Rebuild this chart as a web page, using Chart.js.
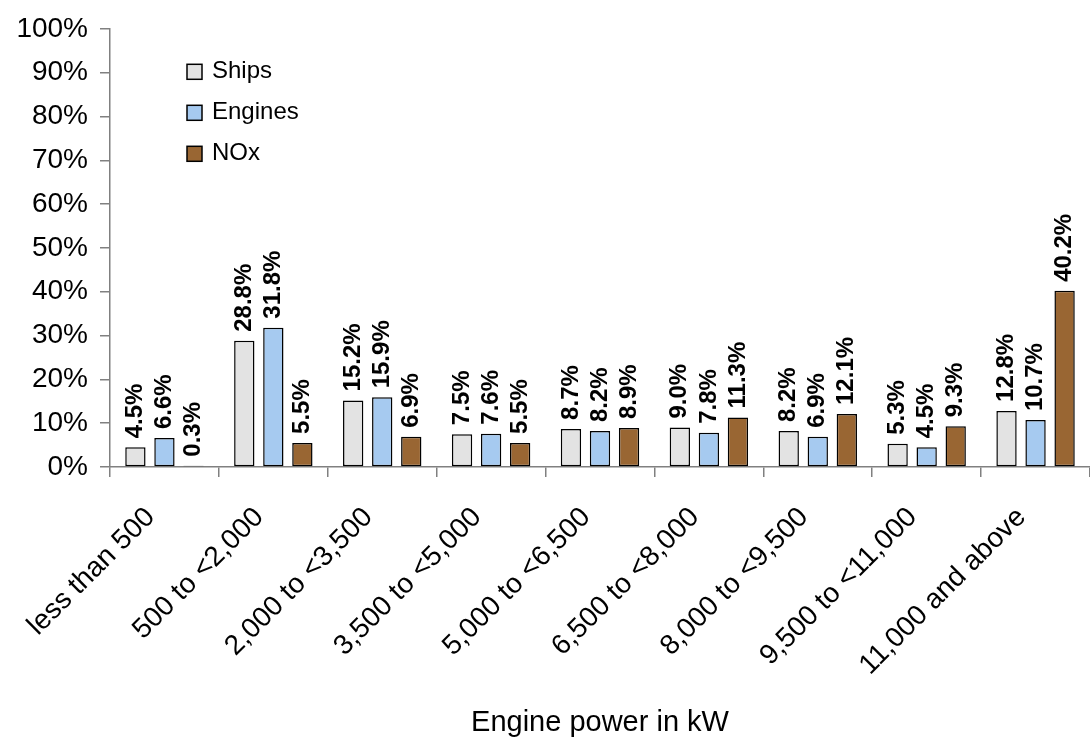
<!DOCTYPE html>
<html>
<head>
<meta charset="utf-8">
<title>Engine power distribution</title>
<script src="https://cdn.jsdelivr.net/npm/chart.js@4/dist/chart.umd.min.js"></script>
<style>
  html, body { margin: 0; padding: 0; background: #ffffff; }
  #wrap { position: relative; width: 1090px; height: 743px; }
</style>
</head>
<body>
<div id="wrap"><canvas id="chart"></canvas></div>
<script>
// Power bands (kW)
const categories = [
  'less than 500', '500 to <2,000', '2,000 to <3,500', '3,500 to <5,000',
  '5,000 to <6,500', '6,500 to <8,000', '8,000 to <9,500', '9,500 to <11,000',
  '11,000 and above'
];

// Share of each band, in percent
const ships   = [4.5, 28.8, 15.2, 7.5, 8.7, 9.0, 8.2, 5.3, 12.8];
const engines = [6.6, 31.8, 15.9, 7.6, 8.2, 7.8, 6.9, 4.5, 10.7];
const nox     = [0.3, 5.5, 6.9, 5.5, 8.9, 11.3, 12.1, 9.3, 40.2];

const seriesNames = ['Ships', 'Engines', 'NOx'];
const yTicks = [0, 10, 20, 30, 40, 50, 60, 70, 80, 90, 100];

const FONT = '"Liberation Sans", Arial, Helvetica, sans-serif';
const AXIS_GREY = '#808080';

// Vertical value labels above each bar
const valueLabels = {
  id: 'valueLabels',
  afterDatasetsDraw(chart) {
    const ctx = chart.ctx;
    ctx.save();
    ctx.font = 'bold 24px ' + FONT;
    ctx.fillStyle = '#000000';
    ctx.textAlign = 'left';
    ctx.textBaseline = 'middle';
    chart.data.datasets.forEach((ds, i) => {
      const meta = chart.getDatasetMeta(i);
      meta.data.forEach((bar, j) => {
        const text = ds.data[j].toFixed(1) + '%';
        ctx.save();
        ctx.translate(bar.x, bar.y - 9);
        ctx.rotate(-Math.PI / 2);
        ctx.fillText(text, 0, 0);
        ctx.restore();
      });
    });
    ctx.restore();
  }
};

// Series key drawn inside the plot, upper left
const insideLegend = {
  id: 'insideLegend',
  afterDraw(chart) {
    const ctx = chart.ctx;
    const x0 = chart.chartArea.left + 77;
    const y0 = chart.chartArea.top + 43;
    const rowGap = 41;
    const box = 15;
    ctx.save();
    ctx.font = '24px ' + FONT;
    ctx.textAlign = 'left';
    ctx.textBaseline = 'middle';
    chart.data.datasets.forEach((ds, i) => {
      const cy = y0 + i * rowGap;
      ctx.fillStyle = ds.backgroundColor;
      ctx.fillRect(x0, cy - box / 2, box, box);
      ctx.lineWidth = 1.5;
      ctx.strokeStyle = '#000000';
      ctx.strokeRect(x0, cy - box / 2, box, box);
      ctx.fillStyle = '#000000';
      ctx.fillText(ds.label, x0 + box + 10, cy);
    });
    ctx.restore();
  }
};

const barStyle = { borderColor: '#000000', borderWidth: 1.5, borderSkipped: false,
                   categoryPercentage: 0.8, barPercentage: 0.7 };

new Chart(document.getElementById('chart'), {
  type: 'bar',
  data: {
    labels: categories,
    datasets: [
      Object.assign({ label: seriesNames[0], data: ships,   backgroundColor: '#E3E3E3' }, barStyle),
      Object.assign({ label: seriesNames[1], data: engines, backgroundColor: '#A6CAF0' }, barStyle),
      Object.assign({ label: seriesNames[2], data: nox,     backgroundColor: '#996633' }, barStyle)
    ]
  },
  options: {
    responsive: true,
    maintainAspectRatio: false,
    animation: false,
    layout: { padding: { top: 23, right: 0, bottom: 0, left: 0 } },
    plugins: {
      legend: { display: false },
      tooltip: { enabled: false }
    },
    scales: {
      x: {
        offset: true,
        grid: { display: true, offset: true, drawOnChartArea: false, drawTicks: true,
                tickLength: 10, color: AXIS_GREY, lineWidth: 1.5 },
        border: { display: true, color: AXIS_GREY, width: 1.5 },
        ticks: { color: '#000000', font: { family: FONT, size: 28 },
                 minRotation: 45, maxRotation: 45, padding: 24, labelOffset: -14,
                 autoSkip: false },
        title: { display: true, text: 'Engine power in kW', color: '#000000',
                 font: { family: FONT, size: 29 }, padding: { top: 0, bottom: 3 } },
        afterFit(scale) { scale.height = 276; }
      },
      y: {
        min: 0,
        max: 100,
        afterBuildTicks(scale) { scale.ticks = yTicks.map(v => ({ value: v })); },
        grid: { display: true, drawOnChartArea: false, drawTicks: true,
                tickLength: 10, color: AXIS_GREY, lineWidth: 1.5 },
        border: { display: true, color: AXIS_GREY, width: 1.5 },
        ticks: { color: '#000000', font: { family: FONT, size: 28 }, padding: 12,
                 callback: v => v + '%' },
        afterFit(scale) { scale.width = 110; }
      }
    }
  },
  plugins: [valueLabels, insideLegend]
});
</script>
</body>
</html>
